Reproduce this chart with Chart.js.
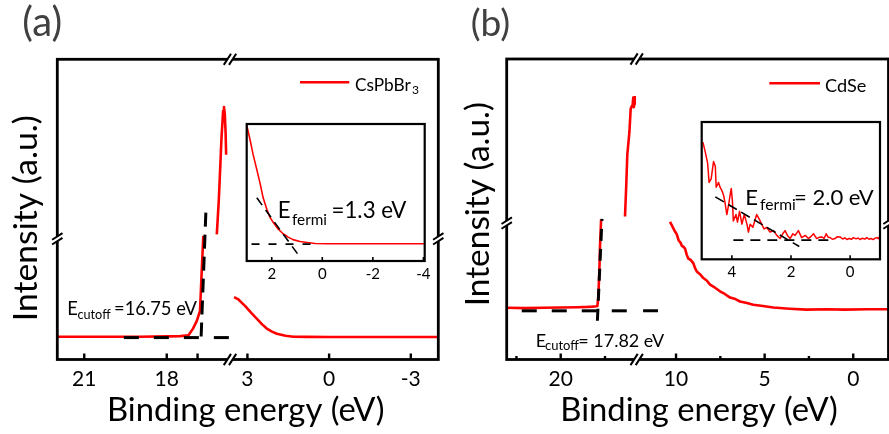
<!DOCTYPE html>
<html><head><meta charset="utf-8">
<script src="https://cdn.jsdelivr.net/npm/chart.js@4.4.1/dist/chart.umd.min.js"></script>
<style>
html,body{margin:0;padding:0;background:#fff;}
#wrap{position:relative;width:889px;height:434px;overflow:hidden;background:#fff;}
canvas{position:absolute;}
</style></head><body>
<div id="wrap">
<canvas id="mainA" width="444" height="434" style="left:0;top:0"></canvas>
<canvas id="mainB" width="445" height="434" style="left:444px;top:0"></canvas>
<canvas id="insetA" width="200" height="185" style="left:240px;top:110px"></canvas>
<canvas id="insetB" width="192" height="185" style="left:695px;top:110px"></canvas>
</div>
<script>
const FONT = 'Lato, "Open Sans", sans-serif';

// ---------- Panel (a) CsPbBr3 : binding energy (eV) / intensity (a.u.) ----------
const A_RANGE_L = [15.70, 21.98];
const A_RANGE_R = [-4.01, 3.64];
const A_TICKS_L = [21, 18];
const A_TICKS_R = [3, 0, -3];
const A_MINOR_L = [16.88];
const A_Y_BREAK = 40.2;
const A_LEFT_E = [21.98, 20.5, 19.0, 18.0, 17.5, 17.21, 17.05, 16.91, 16.79, 16.73, 16.67];
const A_LEFT_I = [7.6, 7.6, 7.6, 7.7, 7.8, 8.1, 10.2, 12.8, 16.2, 29.2, 41.2];
const A_PEAK_E = [16.18, 16.11, 16.06, 16.01, 15.95, 15.92, 15.89, 15.86, 15.84];
const A_PEAK_I = [41.7, 52.6, 63.0, 73.7, 82.8, 84.1, 81.9, 75.4, 68.2];
const A_TAIL_E = [3.49, 3.33, 3.08, 2.86, 2.65, 2.46, 2.29, 2.10, 1.92, 1.60, 1.31, 0.8, 0.0, -1.5, -3.0, -4.01];
const A_TAIL_I = [20.8, 20.0, 17.8, 15.5, 13.5, 11.7, 10.3, 9.3, 8.6, 7.9, 7.6, 7.55, 7.5, 7.5, 7.5, 7.5];
const A_BASE_E = [19.56, 15.70];
const A_BASE_I = [7.3, 7.3];
const A_TAN_E = [16.75, 16.57];
const A_TAN_I = [7.65, 50.9];

// inset (a)
const IA_RANGE = [-4.05, 2.99];
const IA_TICKS = [2, 0, -2, -4];
const IA_E = [2.99, 2.86, 2.74, 2.60, 2.46, 2.34, 2.19, 2.07, 1.95, 1.75, 1.55, 1.35, 1.16, 0.88, 0.60, 0.29, -0.19, -1.49, -3.07, -4.05];
const IA_I = [99.3, 88.7, 78.0, 67.4, 56.7, 46.1, 37.6, 31.9, 28.4, 23.4, 19.9, 17.4, 15.6, 14.2, 13.5, 12.8, 12.6, 12.6, 12.6, 12.6];
const IA_BASE_E = [2.80, 0.33];
const IA_BASE_I = [12.3, 12.3];
const IA_TAN_E = [2.59, 0.91];
const IA_TAN_I = [46.1, 3.5];

// ---------- Panel (b) CdSe ----------
const B_RANGE_L = [15.71, 23.05];
const B_RANGE_R = [-1.99, 12.22];
const B_TICKS_L = [20];
const B_TICKS_R = [10, 5, 0];
const B_MINOR_L = [22.5, 17.5];
const B_MINOR_R = [7.5, 2.5];
const B_Y_BREAK = 45.4;
const B_LEFT_E = [23.05, 22.0, 21.0, 20.0, 19.0, 18.5, 18.2, 18.0, 17.93, 17.88, 17.82, 17.78, 17.72];
const B_LEFT_I = [17.2, 17.1, 17.2, 17.3, 17.4, 17.5, 17.6, 17.7, 17.8, 20.6, 29.2, 37.9, 46.6];
const B_PEAK_E = [16.37, 16.30, 16.24, 16.12, 16.05, 15.97, 15.93, 15.90, 15.87, 15.84, 15.82];
const B_PEAK_I = [47.6, 58.0, 68.2, 75.8, 83.4, 84.5, 85.6, 87.2, 84.0, 85.0, 87.7];
const B_TAIL_E = [10.34, 10.2, 10.05, 9.96, 9.85, 9.75, 9.68, 9.58, 9.49, 9.40, 9.31, 9.18, 9.02, 8.92, 8.83, 8.65, 8.46, 8.27, 8.08, 7.8, 7.52, 7.25, 6.95, 6.65, 6.39, 6.0, 5.64, 5.1, 4.51, 3.6, 2.63, 1.5, 0.5, -0.8, -1.99];
const B_TAIL_I = [45.8, 44.2, 42.5, 41.7, 39.6, 38.9, 37.9, 37.5, 36.9, 34.9, 33.6, 33.2, 32.0, 30.3, 29.3, 28.4, 27.1, 26.3, 24.9, 23.9, 22.7, 21.8, 20.6, 20.1, 19.3, 18.8, 18.2, 17.8, 17.3, 16.9, 16.6, 16.7, 16.6, 16.7, 16.7];
const B_BASE_L_E = [22.2, 15.71];
const B_BASE_R_E = [11.86, 11.02];
const B_BASE_I = [16.2, 16.2];
const B_TAN_E = [17.93, 17.67];
const B_TAN_I = [12.9, 46.8];

// inset (b)
const IB_RANGE = [-1.01, 5.02];
const IB_TICKS = [4, 2, 0];
const IB_E = [4.98, 4.90, 4.82, 4.77, 4.70, 4.62, 4.56, 4.53, 4.45, 4.40,
  4.34, 4.28, 4.23, 4.17, 4.11, 4.06, 4.02, 3.98, 3.95, 3.86,
  3.81, 3.74, 3.66, 3.58, 3.49, 3.44, 3.38, 3.29, 3.21, 3.16,
  3.07, 2.99, 2.91, 2.82, 2.71, 2.59, 2.48, 2.37, 2.28, 2.20,
  2.12, 2.03, 1.94, 1.86, 1.75, 1.64, 1.52, 1.41, 1.33, 1.24,
  1.13, 1.05, 0.96, 0.88, 0.81, 0.74, 0.68, 0.60, 0.51, 0.43,
  0.34, 0.25, 0.18, 0.11, 0.03, -0.05, -0.11, -0.20, -0.27, -0.33,
  -0.42, -0.50, -0.56, -0.64, -0.71, -0.78, -0.85, -0.90, -0.95, -1.0];
const IB_I = [85.3, 78.2, 70.0, 56.0, 58.6, 71.2, 67.7, 52.5, 56.0, 52.5,
  50.2, 46.7, 41.1, 32.6, 39.6, 46.7, 51.6, 42.0, 27.9, 32.6,
  27.0, 34.9, 25.6, 32.6, 25.6, 19.8, 25.6, 23.3, 29.1, 32.6,
  29.1, 25.6, 22.1, 23.3, 19.8, 20.9, 17.4, 15.1, 18.6, 20.9,
  17.4, 15.1, 18.6, 17.4, 20.9, 15.8, 17.4, 15.1, 16.5, 18.6,
  15.1, 16.0, 16.3, 15.2, 18.6, 16.0, 15.8, 14.6, 15.1, 16.5,
  16.3, 14.8, 15.6, 14.4, 15.2, 14.6, 15.8, 14.9, 15.5, 14.4,
  15.3, 14.7, 15.8, 14.6, 15.1, 14.4, 15.4, 15.8, 15.0, 16.7];
const IB_BASE_E = [3.95, 0.63];
const IB_BASE_I = [13.9, 13.9];
const IB_TAN_E = [4.56, 1.72];
const IB_TAN_I = [45.5, 9.3];

// ---------- helpers ----------
const pts = (xs, ys) => xs.map((x, i) => ({x: x, y: ys[i]}));
function redLine(xs, ys, axis, w) {
  return {data: pts(xs, ys), xAxisID: axis, yAxisID: 'y', borderColor: '#ff0000', borderWidth: w,
    pointRadius: 0, fill: false, tension: 0, borderJoinStyle: 'round'};
}
function dashLine(xs, ys, axis, w, pattern) {
  return {data: pts(xs, ys), xAxisID: axis, yAxisID: 'y', borderColor: '#000', borderWidth: w,
    borderDash: pattern, borderCapStyle: 'butt', pointRadius: 0, fill: false, tension: 0};
}
function inkWidth(ctx, t, size) {
  ctx.font = size + 'px ' + FONT;
  const m = ctx.measureText(t);
  return m.actualBoundingBoxLeft + m.actualBoundingBoxRight;
}
function fitSize(ctx, t, w) { return 100 * w / inkWidth(ctx, t, 100); }
function put(ctx, t, x, y, size, color) {
  ctx.font = size + 'px ' + FONT;
  const m = ctx.measureText(t);
  ctx.fillStyle = color || '#000';
  ctx.textAlign = 'left';
  ctx.textBaseline = 'alphabetic';
  ctx.fillText(t, x + m.actualBoundingBoxLeft, y);
}
function breakOnHorizontal(ctx, x, y) {
  const g = 2.6, d = 3.6, h = 5.6;
  ctx.fillStyle = '#fff';
  ctx.beginPath();
  ctx.moveTo(x - g - d, y + h); ctx.lineTo(x - g + d, y - h);
  ctx.lineTo(x + g + d, y - h); ctx.lineTo(x + g - d, y + h); ctx.closePath(); ctx.fill();
  ctx.strokeStyle = '#000'; ctx.lineWidth = 2;
  ctx.beginPath();
  ctx.moveTo(x - g - d, y + h); ctx.lineTo(x - g + d, y - h);
  ctx.moveTo(x + g - d, y + h); ctx.lineTo(x + g + d, y - h);
  ctx.stroke();
}
function breakOnVertical(ctx, x, y) {
  const g = 2.4, d = 3.3, h = 5.2;
  ctx.fillStyle = '#fff';
  ctx.beginPath();
  ctx.moveTo(x - h, y - g + d); ctx.lineTo(x + h, y - g - d);
  ctx.lineTo(x + h, y + g - d); ctx.lineTo(x - h, y + g + d); ctx.closePath(); ctx.fill();
  ctx.strokeStyle = '#000'; ctx.lineWidth = 2;
  ctx.beginPath();
  ctx.moveTo(x - h, y - g + d); ctx.lineTo(x + h, y - g - d);
  ctx.moveTo(x - h, y + g + d); ctx.lineTo(x + h, y + g - d);
  ctx.stroke();
}

const decor = {
  id: 'decor',
  afterDraw(chart, args, o) {
    const ctx = chart.ctx, ca = chart.chartArea;
    ctx.save();
    // frame
    ctx.strokeStyle = '#000';
    ctx.lineWidth = o.frameWidth;
    ctx.strokeRect(ca.left, ca.top, ca.right - ca.left, ca.bottom - ca.top);
    // inward tick marks
    ctx.lineWidth = o.tickWidth;
    ctx.beginPath();
    for (const id of o.axes) {
      const s = chart.scales[id];
      for (const t of s.ticks) {
        const x = s.getPixelForValue(t.value);
        ctx.moveTo(x, ca.bottom); ctx.lineTo(x, ca.bottom - o.tickLen);
      }
      for (const v of ((o.minor || {})[id] || [])) {
        const x = s.getPixelForValue(v);
        ctx.moveTo(x, ca.bottom); ctx.lineTo(x, ca.bottom - o.minorLen);
      }
    }
    ctx.stroke();
    // axis breaks
    if (o.xBreak) {
      const xb = chart.scales.xL.right;
      breakOnHorizontal(ctx, xb, ca.top);
      breakOnHorizontal(ctx, xb, ca.bottom);
    }
    if (o.yBreak != null) {
      const yb = chart.scales.y.getPixelForValue(o.yBreak);
      breakOnVertical(ctx, ca.left, yb);
      breakOnVertical(ctx, ca.right, yb);
    }
    // plain texts
    for (const s of (o.texts || [])) {
      const size = s.w ? fitSize(ctx, s.t, s.w) : s.size;
      if (s.rot) {
        ctx.save();
        ctx.translate(s.x, s.y);
        ctx.rotate(-Math.PI / 2);
        put(ctx, s.t, 0, 0, size, s.color);
        ctx.restore();
      } else {
        put(ctx, s.t, s.x, s.y, size, s.color);
      }
    }
    // E with subscript annotations
    for (const r of (o.rich || [])) {
      const size = fitSize(ctx, r.main.t, r.main.w);
      put(ctx, 'E', r.E.x, r.main.y, size);
      put(ctx, r.sub.t, r.sub.x, r.sub.y, fitSize(ctx, r.sub.t, r.sub.w));
      put(ctx, r.main.t, r.main.x, r.main.y, size);
    }
    // legend
    if (o.legend) {
      const L = o.legend;
      ctx.strokeStyle = '#ff0000'; ctx.lineWidth = 2.6;
      ctx.beginPath(); ctx.moveTo(L.x1, L.y); ctx.lineTo(L.x2, L.y); ctx.stroke();
      const size = fitSize(ctx, L.t, L.w);
      put(ctx, L.t, L.tx, L.ty, size);
      if (L.sub) put(ctx, L.sub, L.sx, L.sy, size * 0.7);
    }
    ctx.restore();
  }
};

function xAxis(range, ticks, weight, size, pad) {
  return {
    type: 'linear', position: 'bottom', stack: 'x', stackWeight: weight,
    min: range[0], max: range[1], reverse: true,
    grid: {display: false, drawTicks: false}, border: {display: false},
    ticks: {font: {family: FONT, size: size}, color: '#000', padding: pad, maxRotation: 0, minRotation: 0,
      autoSkip: false, callback: v => String(v)},
    afterBuildTicks: s => { s.ticks = ticks.map(v => ({value: v})); }
  };
}

function mainChart(id, datasets, scalesLR, pad, decorOpts) {
  return new Chart(document.getElementById(id), {
    type: 'line',
    data: {datasets: datasets},
    options: {
      responsive: false, animation: false, events: [],
      layout: {padding: pad},
      plugins: {legend: {display: false}, tooltip: {enabled: false}, decor: decorOpts},
      scales: {xL: scalesLR[0], xR: scalesLR[1], y: {type: 'linear', display: false, min: 0, max: 100}}
    },
    plugins: [decor]
  });
}

function insetChart(id, datasets, range, ticks, pad, decorOpts) {
  const xs = xAxis(range, ticks, 1, 15, 4);
  delete xs.stack;
  return new Chart(document.getElementById(id), {
    type: 'line',
    data: {datasets: datasets},
    options: {
      responsive: false, animation: false, events: [],
      layout: {padding: pad},
      plugins: {legend: {display: false}, tooltip: {enabled: false}, decor: decorOpts},
      scales: {xL: xs, y: {type: 'linear', display: false, min: 0, max: 100}}
    },
    plugins: [decor]
  });
}

// ---------- panel (a) ----------
mainChart('mainA', [
  dashLine(A_BASE_E, A_BASE_I, 'xL', 3, [15, 15]),
  dashLine(A_TAN_E, A_TAN_I, 'xL', 3, [14, 8]),
  redLine(A_LEFT_E, A_LEFT_I, 'xL', 2.6),
  redLine(A_PEAK_E, A_PEAK_I, 'xL', 2.6),
  redLine(A_TAIL_E, A_TAIL_I, 'xR', 2.6)
], [xAxis(A_RANGE_L, A_TICKS_L, 172.7, 21, 7), xAxis(A_RANGE_R, A_TICKS_R, 208.3, 21, 7)],
{left: 57.3, right: 5.7, top: 59.3, bottom: 35.3},
{
  frameWidth: 2.8, tickWidth: 2.4, tickLen: 6, minorLen: 6, axes: ['xL', 'xR'], minor: {xL: A_MINOR_L},
  xBreak: true, yBreak: A_Y_BREAK,
  texts: [
    {t: '(a)', x: 23.3, y: 36, w: 36.7, color: '#404040'},
    {t: 'Intensity (a.u.)', x: 36.7, y: 318.3, w: 201.7, rot: true},
    {t: 'Binding energy (eV)', x: 110, y: 420.7, w: 273.3}
  ],
  rich: [{E: {x: 68.3}, sub: {t: 'cutoff', x: 77.5, y: 318.5, w: 32.5}, main: {t: '=16.75 eV', x: 115, y: 314.5, w: 81.7}}],
  legend: {x1: 300, x2: 349.3, y: 82.3, t: 'CsPbBr', tx: 355, ty: 90.5, w: 55, sub: '3', sx: 412, sy: 94}
});

// ---------- panel (b) ----------
mainChart('mainB', [
  dashLine(B_BASE_L_E, B_BASE_I, 'xL', 3, [15, 15]),
  dashLine(B_BASE_R_E, B_BASE_I, 'xR', 3, [15, 15]),
  dashLine(B_TAN_E, B_TAN_I, 'xL', 3, [12, 8]),
  redLine(B_LEFT_E, B_LEFT_I, 'xL', 2.6),
  redLine(B_PEAK_E, B_PEAK_I, 'xL', 2.6),
  redLine(B_TAIL_E, B_TAIL_I, 'xR', 2.6)
], [xAxis(B_RANGE_L, B_TICKS_L, 130, 21, 7), xAxis(B_RANGE_R, B_TICKS_R, 251.8, 21, 7)],
{left: 62.7, right: 0.5, top: 59, bottom: 35.3},
{
  frameWidth: 2.8, tickWidth: 2.4, tickLen: 6, minorLen: 3.5, axes: ['xL', 'xR'],
  minor: {xL: B_MINOR_L, xR: B_MINOR_R},
  xBreak: true, yBreak: B_Y_BREAK,
  texts: [
    {t: '(b)', x: 27.7, y: 36, w: 36.7, color: '#404040'},
    {t: 'Intensity (a.u.)', x: 45.3, y: 303.3, w: 200, rot: true},
    {t: 'Binding energy (eV)', x: 119.3, y: 420.7, w: 273.3}
  ],
  rich: [{E: {x: 92.7}, sub: {t: 'cutoff', x: 101, y: 350, w: 33.3}, main: {t: '= 17.82 eV', x: 135.3, y: 346.7, w: 84.7}}],
  legend: {x1: 325.3, x2: 376, y: 83.3, t: 'CdSe', tx: 381, ty: 91.7, w: 40}
});

// ---------- inset (a) ----------
insetChart('insetA', [
  dashLine(IA_BASE_E, IA_BASE_I, 'xL', 1.8, [8, 9]),
  dashLine(IA_TAN_E, IA_TAN_I, 'xL', 1.6, [9, 6]),
  redLine(IA_E, IA_I, 'xL', 1.6)
], IA_RANGE, IA_TICKS, {left: 6.7, right: 15.3, top: 14, bottom: 8},
{
  frameWidth: 2.2, tickWidth: 1.6, tickLen: 4, minorLen: 0, axes: ['xL'],
  rich: [{E: {x: 39.8}, sub: {t: 'fermi', x: 52, y: 115, w: 34}, main: {t: '=1.3 eV', x: 92.5, y: 108.3, w: 73.5}}]
});

// ---------- inset (b) ----------
insetChart('insetB', [
  dashLine(IB_BASE_E, IB_BASE_I, 'xL', 1.8, [10, 7]),
  dashLine(IB_TAN_E, IB_TAN_I, 'xL', 1.6, [10, 5]),
  redLine(IB_E, IB_I, 'xL', 1.5)
], IB_RANGE, IB_TICKS, {left: 6.7, right: 7, top: 12, bottom: 9.7},
{
  frameWidth: 2.2, tickWidth: 1.6, tickLen: 4, minorLen: 0, axes: ['xL'],
  rich: [{E: {x: 52.3}, sub: {t: 'fermi', x: 65, y: 99.5, w: 34.7}, main: {t: '= 2.0 eV', x: 100, y: 95.3, w: 78.3}}]
});
</script>
</body></html>
